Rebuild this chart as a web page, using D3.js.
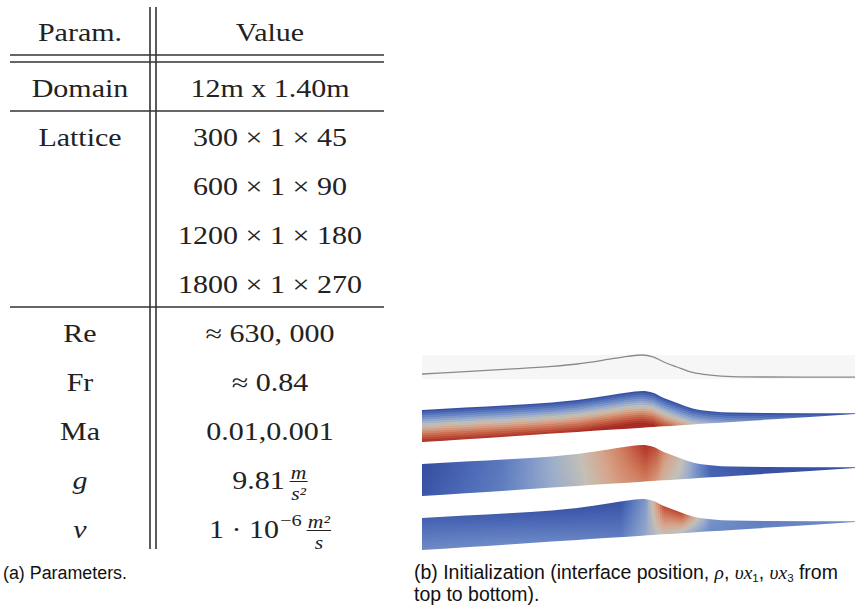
<!DOCTYPE html>
<html>
<head>
<meta charset="utf-8">
<script src="https://cdn.jsdelivr.net/npm/d3@7"></script>
<style>
body { margin: 0; background: #fff; }
</style>
</head>
<body>
<div id="fig"></div>
<script>
// ---- table (a) ----
const paramLabels = ["Param.", "Domain", "Lattice", "", "", "", "Re", "Fr", "Ma", "g", "ν"];
const valueMain = ["Value", "12m x 1.40m", "300 × 1 × 45", "600 × 1 × 90", "1200 × 1 × 180",
                   "1800 × 1 × 270", "≈ 630, 000", "≈ 0.84", "0.01,0.001", "9.81", "1 · 10"];
const valueSup = ["", "", "", "", "", "", "", "", "", "", "−6"];
const unitNum = ["", "", "", "", "", "", "", "", "", "m", "m²"];
const unitDen = ["", "", "", "", "", "", "", "", "", "s²", "s"];
const ruleAfter = [0, 1, 5];   // rows followed by a horizontal rule (row 0 gets a double rule)

// ---- figure (b): wave profile over a sloping bed, in metres ----
const surfX = [0, 1.2, 2.4, 3.6, 4.3, 5.2, 5.7, 6.1, 6.4, 6.7, 7.07, 7.5, 8.0, 8.6, 9.5, 12];
const surfZ = [0.80, 0.86, 0.92, 0.99, 1.05, 1.17, 1.24, 1.275, 1.23, 1.10, 0.975, 0.84, 0.77, 0.735, 0.725, 0.72];
const bedX = [0, 12];
const bedZ = [0, 0.70];

// density: normalised colour value against depth below the surface
const rhoDepth = [0, 0.2, 0.4, 0.6, 0.8];
const rhoValue = [0.03, 0.27, 0.52, 0.77, 0.97];

// velocities: normalised colour value at stations, at the surface and at the bed
const stationX = [0, 2.2, 4.4, 5.5, 6.2, 6.5, 6.7, 7.2, 7.6, 8.0, 9.4, 12];
const vx1Top = [0.03, 0.18, 0.5, 0.74, 0.95, 0.86, 0.7, 0.5, 0.28, 0.1, 0.04, 0.03];
const vx1Bed = [0.06, 0.2, 0.47, 0.66, 0.74, 0.66, 0.56, 0.45, 0.28, 0.12, 0.05, 0.04];
const vx3Top = [0.1, 0.08, 0.06, 0.05, 0.3, 0.65, 0.88, 0.9, 0.55, 0.28, 0.2, 0.25];
const vx3Bed = [0.25, 0.25, 0.22, 0.2, 0.36, 0.46, 0.5, 0.45, 0.34, 0.25, 0.22, 0.25];

const coolWarm = ["#2e4597", "#4a68b6", "#6e8bc6", "#9aaccb", "#c3c0b6", "#d5a48c", "#cf7c5e", "#bd4d38", "#a11d1f"];

const W = 855, H = 607;
const svg = d3.select("#fig").append("svg").attr("width", W).attr("height", H);
const defs = svg.append("defs");

const serif = "'Liberation Serif', 'Times New Roman', serif";
const sans = "'Liberation Sans', Arial, sans-serif";
const ink = "#222";
const stretch = 1.2;   // the table was typeset wide

// row baselines
const rowY = i => 41 + i * 49 + (i >= 1 ? 7 : 0);
const colParam = 80, colValue = 270;

const table = svg.append("g");

// vertical double rule
[150, 156].forEach(x => {
  table.append("line").attr("x1", x).attr("x2", x).attr("y1", 7).attr("y2", 549)
    .attr("stroke", "#333").attr("stroke-width", 1.6);
});

// horizontal rules
ruleAfter.forEach(i => {
  const y = rowY(i + 1) - 35;
  const ys = i === 0 ? [y - 7, y] : [y];
  ys.forEach(yy => {
    table.append("line").attr("x1", 10).attr("x2", 384).attr("y1", yy).attr("y2", yy)
      .attr("stroke", "#333").attr("stroke-width", 1.6);
  });
});

// parameter column
table.selectAll("text.param").data(paramLabels).join("text")
  .attr("class", "param")
  .attr("transform", (d, i) => `translate(${colParam},${rowY(i)}) scale(${stretch},1)`)
  .attr("text-anchor", "middle")
  .attr("font-family", serif).attr("font-size", 25)
  .attr("font-style", d => d.length === 1 ? "italic" : "normal")
  .attr("fill", ink)
  .text(d => d);

// value column (with superscripts and unit fractions)
valueMain.forEach((v, i) => {
  const g = table.append("g");
  const main = g.append("text").attr("x", 0).attr("y", rowY(i))
    .attr("font-family", serif).attr("font-size", 25).attr("fill", ink).text(v);
  let x = main.node().getComputedTextLength();
  if (valueSup[i]) {
    const s = g.append("text").attr("x", x + 1).attr("y", rowY(i) - 12)
      .attr("font-family", serif).attr("font-size", 17).attr("fill", ink).text(valueSup[i]);
    x += s.node().getComputedTextLength() + 1;
  }
  if (unitNum[i]) {
    x += 4;
    const num = g.append("text").attr("y", rowY(i) - 10)
      .attr("font-family", serif).attr("font-style", "italic").attr("font-size", 18)
      .attr("text-anchor", "middle").attr("fill", ink).text(unitNum[i]);
    const den = g.append("text").attr("y", rowY(i) + 11)
      .attr("font-family", serif).attr("font-style", "italic").attr("font-size", 18)
      .attr("text-anchor", "middle").attr("fill", ink).text(unitDen[i]);
    const fw = Math.max(num.node().getComputedTextLength(), den.node().getComputedTextLength()) + 2;
    num.attr("x", x + fw / 2);
    den.attr("x", x + fw / 2);
    g.append("line").attr("x1", x).attr("x2", x + fw)
      .attr("y1", rowY(i) - 7.5).attr("y2", rowY(i) - 7.5)
      .attr("stroke", ink).attr("stroke-width", 1);
    x += fw;
  }
  g.attr("transform", `translate(${colValue - x * stretch / 2},0) scale(${stretch},1)`);
});

// ---- fields ----
const xField = d3.scaleLinear().domain([0, 12]).range([422, 855]);
const surfAt = d3.scaleLinear().domain(surfX).range(surfZ).clamp(true);
const bedAt = d3.scaleLinear().domain(bedX).range(bedZ);
const cmap = d3.scaleLinear().domain(d3.range(coolWarm.length).map(i => i / (coolWarm.length - 1)))
  .range(coolWarm).interpolate(d3.interpolateLab).clamp(true);
const surfPts = surfX.map((x, i) => ({ x, z: surfZ[i] }));

const zScaleFor = y0 => d3.scaleLinear().domain([0, 1.4]).range([y0, y0 - 56]);

// interface position
(function () {
  const y0 = 406;
  const zs = zScaleFor(y0);
  svg.append("rect").attr("x", 422).attr("y", 355).attr("width", 433).attr("height", 24)
    .attr("fill", "#f6f6f6");
  const line = d3.line().x(d => xField(d.x)).y(d => zs(d.z)).curve(d3.curveMonotoneX);
  svg.append("path").attr("d", line(surfPts)).attr("fill", "none")
    .attr("stroke", "#8a8a8a").attr("stroke-width", 1.3);
})();

const rhoAt = d3.scaleLinear().domain(rhoDepth).range(rhoValue).clamp(true);
const vx1T = d3.scaleLinear().domain(stationX).range(vx1Top);
const vx1B = d3.scaleLinear().domain(stationX).range(vx1Bed);
const vx3T = d3.scaleLinear().domain(stationX).range(vx3Top);
const vx3B = d3.scaleLinear().domain(stationX).range(vx3Bed);

const fields = [
  { id: "rho", y0: 442, value: (x, depth, s) => rhoAt(depth) },
  { id: "vx1", y0: 496, value: (x, depth, s) => vx1T(x) * (1 - s) + vx1B(x) * s },
  { id: "vx3", y0: 550, value: (x, depth, s) => vx3T(x) * (1 - s) + vx3B(x) * s },
];

fields.forEach(f => {
  const zs = zScaleFor(f.y0);
  const area = d3.area().x(d => xField(d.x))
    .y0(d => zs(bedAt(d.x))).y1(d => zs(d.z)).curve(d3.curveMonotoneX);
  defs.append("clipPath").attr("id", "clip-" + f.id).append("path").attr("d", area(surfPts));

  const cells = [];
  const step = 2;
  for (let px = 422; px < 855; px += step) {
    const x = xField.invert(px + step / 2);
    const sz = surfAt(x), bz = bedAt(x);
    const top = Math.floor(zs(sz)) - 4, bot = Math.ceil(zs(bz)) + 2;
    for (let py = top; py < bot; py += step) {
      const z = zs.invert(py + step / 2);
      const depth = Math.max(0, sz - z);
      const s = Math.min(1, depth / Math.max(1e-3, sz - bz));
      cells.push({ px, py, t: f.value(x, depth, s) });
    }
  }
  svg.append("g").attr("clip-path", `url(#clip-${f.id})`)
    .selectAll("rect").data(cells).join("rect")
    .attr("x", d => d.px).attr("y", d => d.py)
    .attr("width", step).attr("height", step)
    .attr("shape-rendering", "crispEdges")
    .attr("fill", d => cmap(d.t));
});

// ---- captions ----
const capB = svg.append("text").attr("font-family", sans).attr("font-size", 17).attr("fill", "#111");
const l1 = capB.append("tspan").attr("x", 414).attr("y", 579);
l1.append("tspan").text("(b) Initialization (interface position, ");
l1.append("tspan").attr("font-family", serif).attr("font-style", "italic").text("ρ");
l1.append("tspan").text(", ");
l1.append("tspan").attr("font-family", serif).attr("font-style", "italic").text("υx");
l1.append("tspan").attr("font-size", 11.5).attr("dy", 3).text("1");
l1.append("tspan").attr("dy", -3).text(", ");
l1.append("tspan").attr("font-family", serif).attr("font-style", "italic").text("υx");
l1.append("tspan").attr("font-size", 11.5).attr("dy", 3).text("3");
l1.append("tspan").attr("dy", -3).text(" from");
capB.append("tspan").attr("x", 414).attr("y", 601).text("top to bottom).");

// fit the caption size so the first line spans the figure width
const capSize = Math.min(19.6, 17 * 426 / l1.node().getComputedTextLength());
capB.attr("font-size", capSize);

const capA = svg.append("text").attr("x", 3).attr("y", 579)
  .attr("font-family", sans).attr("font-size", 17).attr("fill", "#111")
  .text("(a) Parameters.");
capA.attr("font-size", Math.min(capSize, 17 * 124 / capA.node().getComputedTextLength()));
</script>
</body>
</html>
